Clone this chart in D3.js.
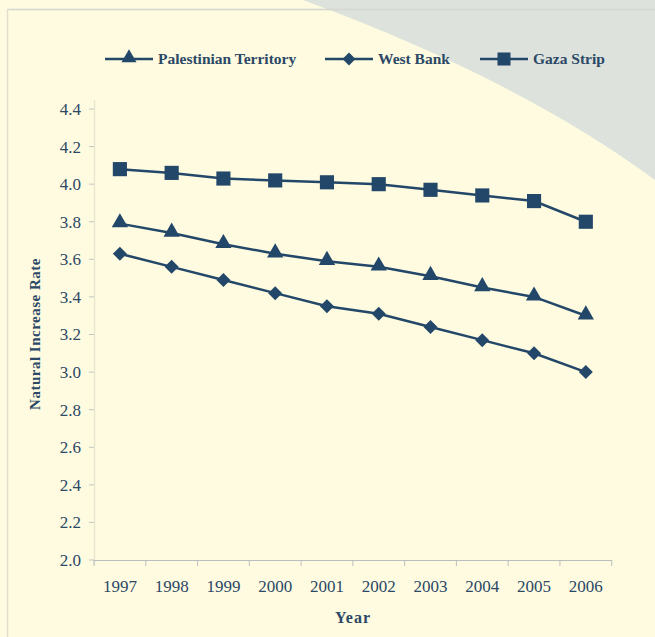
<!DOCTYPE html>
<html>
<head>
<meta charset="utf-8">
<script src="https://cdn.jsdelivr.net/npm/d3@7"></script>
<style>
  body { margin: 0; background: #fefbe0; }
  svg { display: block; }
  text { fill: #2b4866; }
</style>
</head>
<body>
<svg></svg>
<script>

var years = ["1997","1998","1999","2000","2001","2002","2003","2004","2005","2006"]
var palestinian = [3.79, 3.74, 3.68, 3.63, 3.59, 3.56, 3.51, 3.45, 3.40, 3.30]
var westBank = [3.63, 3.56, 3.49, 3.42, 3.35, 3.31, 3.24, 3.17, 3.10, 3.00]
var gaza = [4.08, 4.06, 4.03, 4.02, 4.01, 4.00, 3.97, 3.94, 3.91, 3.80]
var yTicks = [2.0, 2.2, 2.4, 2.6, 2.8, 3.0, 3.2, 3.4, 3.6, 3.8, 4.0, 4.2, 4.4]

var series = [
  {name: "Palestinian Territory", values: palestinian, symbol: d3.symbolTriangle, size: 115, rot: 0, dy: -1},
  {name: "West Bank", values: westBank, symbol: d3.symbolSquare, size: 98, rot: 45, dy: 0},
  {name: "Gaza Strip", values: gaza, symbol: d3.symbolSquare, size: 200, rot: 0, dy: 0}
]

var width = 655
var height = 637
var navy = "#234769"

var svg = d3.select('svg')
            .attr('width', width)
            .attr('height', height)
            .attr('font-family', '"Liberation Serif", "Times New Roman", serif')

// background and the grey corner swoosh
svg.append('rect').attr('width', width).attr('height', height).attr('fill', '#fefbe0')
svg.append('path')
   .attr('d', 'M303,0 Q520,80 655,180 L655,0 Z')
   .attr('fill', '#dde3dc')
svg.append('line').attr('x1', 7).attr('x2', width).attr('y1', 9.5).attr('y2', 9.5)
   .attr('stroke', '#d3d6cf').attr('stroke-width', 1.5)
svg.append('line').attr('x1', 7.5).attr('x2', 7.5).attr('y1', 9).attr('y2', height)
   .attr('stroke', '#e2e0cc').attr('stroke-width', 1.5)

var xScale = d3.scaleBand()
               .domain(years)
               .range([94, 611.7])

var yScale = d3.scaleLinear()
               .domain([2.0, 4.4])
               .range([560, 109])

// y axis
var yAxis = svg.append('g')
yAxis.append('line')
     .attr('x1', 94.5).attr('x2', 94.5).attr('y1', 100).attr('y2', 565)
     .attr('stroke', '#ebe8d2').attr('stroke-width', 1.5)
yTicks.forEach(function(t){
  yAxis.append('line')
       .attr('x1', 89).attr('x2', 94)
       .attr('y1', yScale(t)).attr('y2', yScale(t))
       .attr('stroke', '#c3c6c0')
  yAxis.append('text')
       .attr('x', 81).attr('y', yScale(t))
       .attr('dy', '0.35em')
       .attr('text-anchor', 'end')
       .style('font-size', '17px')
       .text(t.toFixed(1))
})

// x axis
var xAxis = svg.append('g')
xAxis.append('line')
     .attr('x1', 94).attr('x2', 612).attr('y1', 560.5).attr('y2', 560.5)
     .attr('stroke', '#b9bfbe').attr('stroke-width', 1)
years.forEach(function(y, i){
  xAxis.append('line')
       .attr('x1', xScale(y)).attr('x2', xScale(y))
       .attr('y1', 560).attr('y2', 566)
       .attr('stroke', '#b9bfbe')
  xAxis.append('text')
       .attr('x', xScale(y) + xScale.bandwidth() / 2)
       .attr('y', 592)
       .attr('text-anchor', 'middle')
       .style('font-size', '17px')
       .text(y)
})
xAxis.append('line')
     .attr('x1', 611.7).attr('x2', 611.7).attr('y1', 560).attr('y2', 566)
     .attr('stroke', '#b9bfbe')

// axis titles
svg.append('text')
   .attr('x', 353).attr('y', 623)
   .attr('text-anchor', 'middle')
   .style('font-size', '16px').style('font-weight', 'bold').style('letter-spacing', '1px')
   .text('Year')
svg.append('text')
   .attr('transform', 'translate(40,334) rotate(-90)')
   .attr('text-anchor', 'middle')
   .style('font-size', '15px').style('font-weight', 'bold').style('letter-spacing', '0.5px')
   .text('Natural Increase Rate')

// lines and markers
var line = d3.line()
             .x(function(d, i){ return xScale(years[i]) + xScale.bandwidth() / 2 })
             .y(function(d){ return yScale(d) })

series.forEach(function(s, k){
  svg.append('path')
     .attr('d', line(s.values))
     .attr('fill', 'none')
     .attr('stroke', navy)
     .attr('stroke-width', 2.5)
  svg.selectAll('.m' + k)
     .data(s.values)
     .enter()
     .append('path')
     .attr('class', 'm' + k)
     .attr('d', d3.symbol().type(s.symbol).size(s.size))
     .attr('transform', function(d, i){
        return 'translate(' + (xScale(years[i]) + xScale.bandwidth() / 2) + ',' + (yScale(d) + s.dy) + ') rotate(' + s.rot + ')'
     })
     .attr('fill', navy)
})

// legend
var legendX = [105, 325, 480]
series.forEach(function(s, i){
  var g = svg.append('g').attr('transform', 'translate(' + legendX[i] + ',59)')
  g.append('line').attr('x1', 0).attr('x2', 48).attr('y1', 0).attr('y2', 0)
   .attr('stroke', navy).attr('stroke-width', 2.5)
  g.append('path')
   .attr('d', d3.symbol().type(s.symbol).size(s.size * 0.85))
   .attr('transform', 'translate(24,' + s.dy + ') rotate(' + s.rot + ')')
   .attr('fill', navy)
  g.append('text')
   .attr('x', 53).attr('y', 0).attr('dy', '0.35em')
   .style('font-size', '15.5px').style('font-weight', 'bold')
   .text(s.name)
})

</script>
</body>
</html>
